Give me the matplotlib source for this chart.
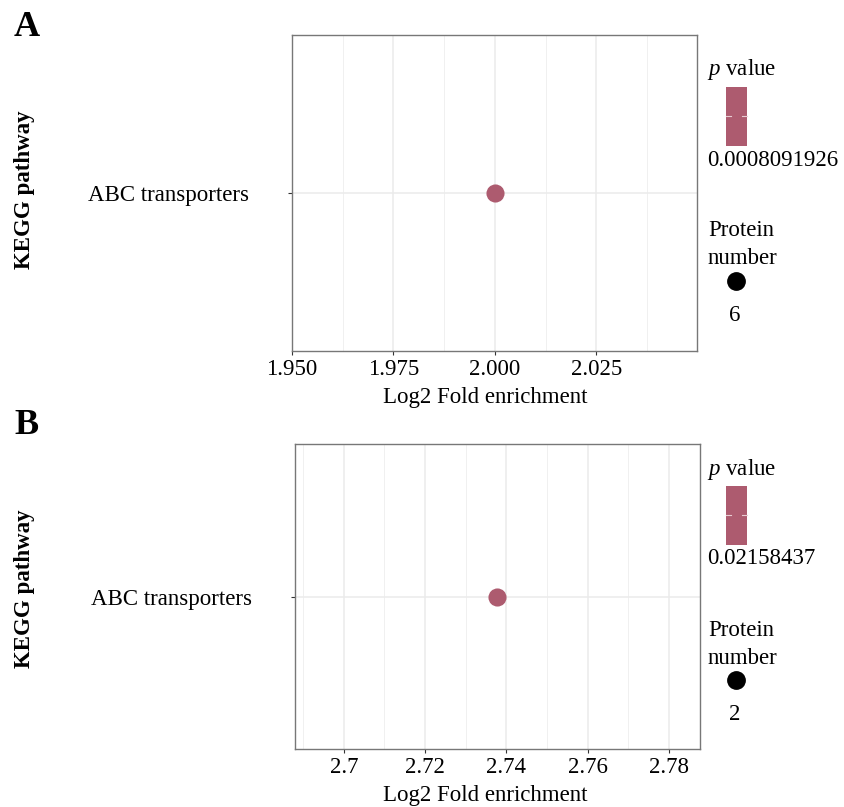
import matplotlib
matplotlib.use("Agg")
import matplotlib.pyplot as plt
from matplotlib.patches import Rectangle
from matplotlib.lines import Line2D

plt.rcParams['font.family'] = ['Liberation Serif', 'DejaVu Serif']
plt.rcParams['mathtext.fontset'] = 'custom'
plt.rcParams['mathtext.rm'] = 'Liberation Serif'
plt.rcParams['mathtext.it'] = 'Liberation Serif:italic'

# data
pathways = ["ABC transporters"]
fold_a = [2.000]
pval_a = [0.0008091926]
count_a = [6]
fold_b = [2.7377]
pval_b = [0.02158437]
count_b = [2]

ticks_a = [1.950, 1.975, 2.000, 2.025]
ticklabels_a = ["1.950", "1.975", "2.000", "2.025"]
minor_a = [1.9625, 1.9875, 2.0125, 2.0375]
ticks_b = [2.70, 2.72, 2.74, 2.76, 2.78]
ticklabels_b = ["2.7", "2.72", "2.74", "2.76", "2.78"]
minor_b = [2.69, 2.71, 2.73, 2.75, 2.77]

W, H = 845, 807
FS = 16.5
pt_color = '#ad5b6f'
fig = plt.figure(figsize=(W / 100, H / 100), dpi=100)


def fx(px):
    return px / W


def fy(py):
    return 1 - py / H


def panel(box, folds, pvals, counts, xlim, ticks, ticklabels, minor, letter, ytop, ylab_y):
    l, t, r, b = box
    ax = fig.add_axes([fx(l), fy(b), fx(r - l), (b - t) / H])
    ax.set_xlim(*xlim)
    ax.set_ylim(0.4, 1.6)
    for m in minor:
        ax.axvline(m, color='#f0f0f0', lw=0.7, zorder=0)
    for tk in ticks:
        ax.axvline(tk, color='#ebebeb', lw=1.1, zorder=0)
    ax.axhline(1, color='#ebebeb', lw=1.1, zorder=0)
    ax.scatter(folds, [1] * len(folds), s=170, color=pt_color, zorder=3, linewidths=0)
    ax.set_xticks(ticks)
    ax.set_xticklabels(ticklabels, fontsize=FS)
    ax.set_yticks([1])
    ax.set_yticklabels(pathways, fontsize=FS)
    ax.tick_params(axis='both', length=3, width=0.8, color='#333333', pad=3)
    ax.tick_params(axis='y', pad=28)
    for s in ax.spines.values():
        s.set_color('#777777')
        s.set_linewidth(1.0)
    # x label sits a little left of the panel centre, as in the original
    fig.text(fx(485), fy(b + 46), "Log2 Fold enrichment", fontsize=FS, va='center', ha='center')
    fig.text(fx(25), fy(ylab_y), "KEGG pathway", fontsize=FS, fontweight='bold',
             rotation=90, va='center', ha='center')

    fig.text(fx(14), fy(ytop - 8), letter, fontsize=26, fontweight='bold', va='center', ha='left')

    # legend: p value colour bar
    fig.text(fx(707), fy(ytop + 35), "$\\it{p}$ value", fontsize=FS, va='center', ha='left')
    fig.add_artist(Rectangle((fx(726), fy(ytop + 111)), fx(21), (59) / H,
                             transform=fig.transFigure, color=pt_color, lw=0))
    fig.add_artist(Line2D([fx(726), fx(731)], [fy(ytop + 81)] * 2,
                          transform=fig.transFigure, color='#e8cbd2', lw=0.8))
    fig.add_artist(Line2D([fx(742), fx(747)], [fy(ytop + 81)] * 2,
                          transform=fig.transFigure, color='#e8cbd2', lw=0.8))
    fig.text(fx(707), fy(ytop + 125), f"{pvals[0]}", fontsize=FS, va='center', ha='left')

    # legend: protein number
    fig.text(fx(708), fy(ytop + 196), "Protein", fontsize=FS, va='center', ha='left')
    fig.text(fx(708), fy(ytop + 224), "number", fontsize=FS, va='center', ha='left')
    fig.add_artist(Line2D([fx(736)], [fy(ytop + 246)], transform=fig.transFigure,
                          marker='o', markersize=12.5, color='black', lw=0))
    fig.text(fx(735), fy(ytop + 280), f"{counts[0]}", fontsize=FS, va='center', ha='center')
    return ax


panel((292, 35, 697, 351), fold_a, pval_a, count_a, (1.95, 2.0498),
      ticks_a, ticklabels_a, minor_a, "A", 35, 190)
panel((295, 444, 700, 749), fold_b, pval_b, count_b, (2.688, 2.7876),
      ticks_b, ticklabels_b, minor_b, "B", 434, 589)

fig.savefig("out.png", dpi=100)
